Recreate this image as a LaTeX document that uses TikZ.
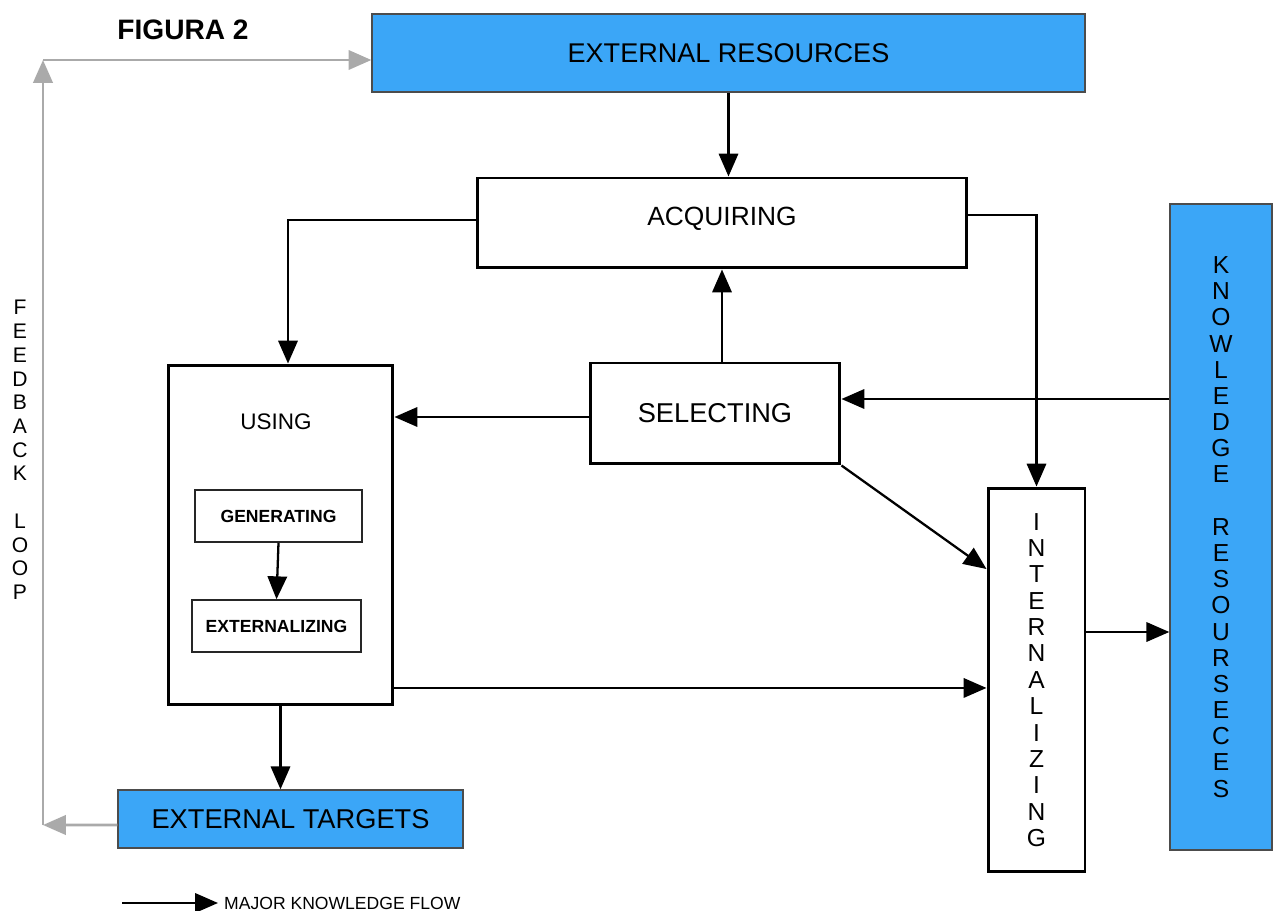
\documentclass[tikz,border=0pt]{standalone}
\usepackage{fontspec}
\setmainfont{Liberation Sans}
\usetikzlibrary{arrows.meta}
\definecolor{resblue}{HTML}{3BA6F7}
\definecolor{fbgray}{HTML}{AAAAAA}
\tikzset{
  box/.style={draw=black,line width=1.7pt,fill=white,align=center},
  smallbox/.style={draw=black!85,line width=0.9pt,fill=white,align=center,
    font={\fontsize{10}{12}\selectfont\bfseries}},
  bluebox/.style={draw=black!70,line width=0.8pt,fill=resblue,align=center},
  flow/.style={line width=1.3pt,-{Triangle[length=13pt,width=11pt]}},
  fb/.style={fbgray,line width=1.6pt,-{Triangle[length=13pt,width=11pt]}},
}
\begin{document}
\begin{tikzpicture}[x=0.02cm,y=-0.02cm]
  \useasboundingbox (0,0) rectangle (1278,911);
  % blue resources and targets
  \node[bluebox,minimum width=14.26cm,minimum height=1.56cm,font=\fontsize{15.4}{17}\selectfont]
    (extres) at (728.5,53) {EXTERNAL RESOURCES};
  \node[bluebox,minimum width=6.9cm,minimum height=1.16cm,font=\fontsize{15.5}{17}\selectfont]
    (exttgt) at (290.5,819) {EXTERNAL TARGETS};
  \node[bluebox,minimum width=2.04cm,minimum height=12.92cm,font=\fontsize{14}{14.9}\selectfont]
    (knres) at (1221,527) {K\\N\\O\\W\\L\\E\\D\\G\\E\\~\\R\\E\\S\\O\\U\\R\\S\\E\\C\\E\\S};
  % process boxes
  \node[box,minimum width=9.8cm,minimum height=1.8cm,font=\fontsize{15}{17}\selectfont]
    (acq) at (722,223) {\raisebox{0.28cm}{ACQUIRING}};
  \node[box,minimum width=5.0cm,minimum height=2.02cm,font=\fontsize{15.5}{17}\selectfont]
    (sel) at (715,413.5) {SELECTING};
  \node[box,minimum width=4.5cm,minimum height=6.8cm] (using) at (280.5,535) {};
  \node[font=\fontsize{12.8}{14}\selectfont] (uselbl) at (276,422) {USING};
  \node[smallbox,minimum width=3.34cm,minimum height=1.04cm] (gen) at (278.5,516) {GENERATING};
  \node[smallbox,minimum width=3.38cm,minimum height=1.04cm] (extz) at (276.5,626) {EXTERNALIZING};
  \node[box,minimum width=1.94cm,minimum height=7.68cm,font=\fontsize{14}{15}\selectfont]
    (intz) at (1036.5,680) {I\\N\\T\\E\\R\\N\\A\\L\\I\\Z\\I\\N\\G};
  % titles and legend
  \node[font=\fontsize{16}{19}\selectfont\bfseries] (title) at (183,30) {FIGURA 2};
  \node[font=\fontsize{12}{13.5}\selectfont,align=center] (fblbl) at (20,450)
    {F\\E\\E\\D\\B\\A\\C\\K\\~\\L\\O\\O\\P};
  \coordinate (legs) at (122,903);
  \node[anchor=west,font=\fontsize{10}{12}\selectfont] (legtxt) at (218,903) {MAJOR KNOWLEDGE FLOW};
  % major knowledge flows
  \draw[flow] (extres.south) -- (extres.south |- acq.north);
  \draw[flow] ([yshift=0.06cm]acq.west) -| ([xshift=0.15cm]using.north);
  \draw[flow] ([yshift=0.16cm]acq.east) -| (intz.north);
  \draw[flow] (acq.south |- sel.north) -- (acq.south);
  \draw[flow] ([yshift=-0.07cm]sel.west) -- ([yshift=-0.07cm]sel.west -| using.east);
  \coordinate (selin) at ([yshift=0.29cm]sel.east);
  \draw[flow] (knres.west |- selin) -- (selin);
  \draw[flow] (sel.south east) -- ([yshift=2.22cm]intz.west);
  \coordinate (useout) at ([yshift=-3.06cm]using.east);
  \draw[flow] (useout) -- (useout -| intz.west);
  \draw[flow] (using.south) -- (using.south |- exttgt.north);
  \coordinate (intout) at ([yshift=0.96cm]intz.east);
  \draw[flow] (intout) -- (intout -| knres.west);
  \draw[flow] (gen.south) -- (extz.north);
  \draw[flow] (legs) -- (legtxt.west);
  % feedback loop
  \coordinate (fbb) at (43,825);
  \coordinate (fbt) at (43,60);
  \draw[fb] ([yshift=-0.12cm]exttgt.west) -- (fbb);
  \draw[fb] (fbb) -- (fbt);
  \draw[fb] (fbt) -- (fbt -| extres.west);
\end{tikzpicture}
\end{document}
